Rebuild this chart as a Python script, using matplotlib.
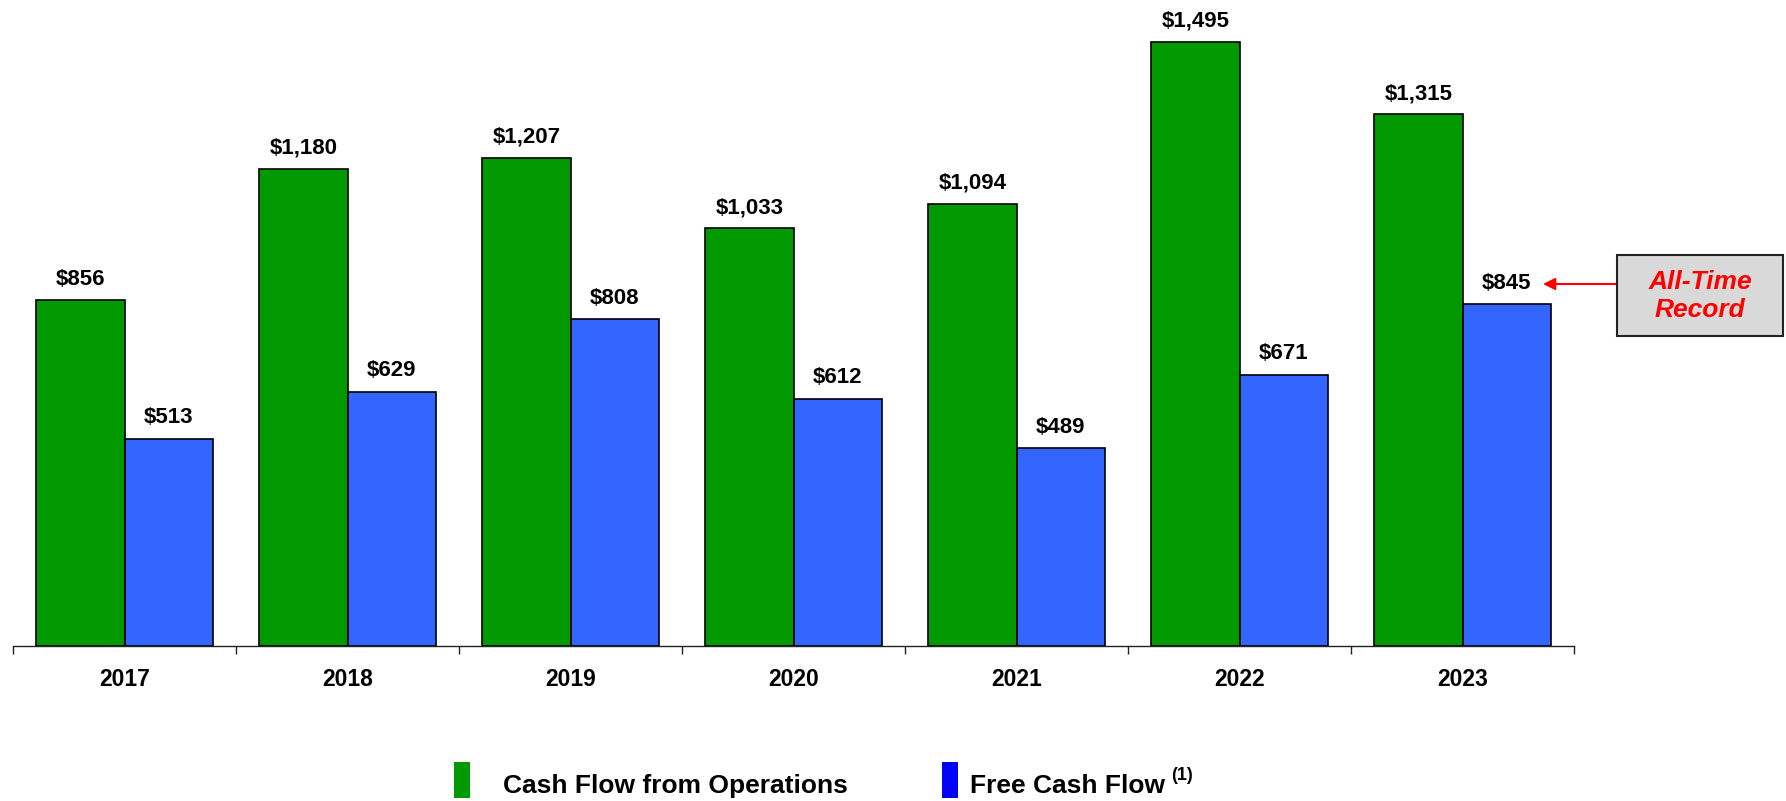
import matplotlib.pyplot as plt
from matplotlib.patches import Rectangle

years = ["2017", "2018", "2019", "2020", "2021", "2022", "2023"]
cash_ops = [856, 1180, 1207, 1033, 1094, 1495, 1315]
free_cash = [513, 629, 808, 612, 489, 671, 845]

green = "#009900"
blue = "#3366ff"

plt.rcParams["font.family"] = ["Liberation Sans", "DejaVu Sans"]

W, H = 1786, 801
fig = plt.figure(figsize=(W / 100, H / 100), dpi=100)
# axes placed in pixels: baseline at y=646, x from 13 to 1574
ax = fig.add_axes([13 / W, (H - 646) / H, 1561 / W, 630.7 / H])
ax.set_xlim(0, 7)
ax.set_ylim(0, 1560)

bw = 0.395
x = [i + 0.5 for i in range(len(years))]
b1 = ax.bar([v - bw / 2 for v in x], cash_ops, width=bw, color=green,
            edgecolor="black", linewidth=1.2)
b2 = ax.bar([v + bw / 2 for v in x], free_cash, width=bw, color=blue,
            edgecolor="black", linewidth=1.2)

for bars, vals in ((b1, cash_ops), (b2, free_cash)):
    for r, v in zip(bars, vals):
        ax.annotate(f"${v:,}", (r.get_x() + r.get_width() / 2, v),
                    xytext=(0, 15), textcoords="offset points",
                    ha="center", va="center", fontsize=16, fontweight="bold")

for s in ["top", "right", "left"]:
    ax.spines[s].set_visible(False)
ax.spines["bottom"].set_color("#222222")
ax.spines["bottom"].set_linewidth(1.0)
ax.set_yticks([])
ax.set_xticks(range(8))
ax.set_xticklabels([])
ax.tick_params(axis="x", which="major", length=6, width=1, color="#222222")
ax.set_xticks(x, minor=True)
ax.set_xticklabels(years, minor=True, fontsize=16.5, fontweight="bold")
ax.tick_params(axis="x", which="minor", length=0, pad=16)

# call-out box
fig.add_artist(Rectangle((1617 / W, (H - 336) / H), 166 / W, 81 / H,
                         transform=fig.transFigure, facecolor="#d9d9d9",
                         edgecolor="#222222", linewidth=1.5))
fig.text(1700 / W, (H - 296) / H, "All-Time\nRecord", ha="center", va="center",
         color="#ff0000", fontsize=19, fontweight="bold", style="italic",
         linespacing=1.2)
ax.annotate("", xy=(1543, H - 284), xycoords="figure pixels",
            xytext=(1617, H - 284), textcoords="figure pixels",
            arrowprops=dict(arrowstyle="-|>", color="#ff0000", lw=1.5,
                            mutation_scale=18, shrinkA=0, shrinkB=0))

# legend drawn by hand
fig.add_artist(Rectangle((454 / W, (H - 798) / H), 16 / W, 36 / H,
                         transform=fig.transFigure, facecolor=green, edgecolor="none"))
fig.add_artist(Rectangle((942 / W, (H - 798) / H), 16 / W, 36 / H,
                         transform=fig.transFigure, facecolor="#0000ff", edgecolor="none"))
fig.text(503 / W, (H - 786) / H, "Cash Flow from Operations", ha="left", va="center",
         fontsize=19, fontweight="bold")
t2 = fig.text(970 / W, (H - 786) / H, "Free Cash Flow", ha="left", va="center",
              fontsize=19, fontweight="bold")
fig.canvas.draw()
bb = t2.get_window_extent(fig.canvas.get_renderer())
fig.text((bb.x1 + 6) / W, (H - 775) / H, "(1)", ha="left", va="center",
         fontsize=13, fontweight="bold")

fig.savefig("out.png", dpi=100)
